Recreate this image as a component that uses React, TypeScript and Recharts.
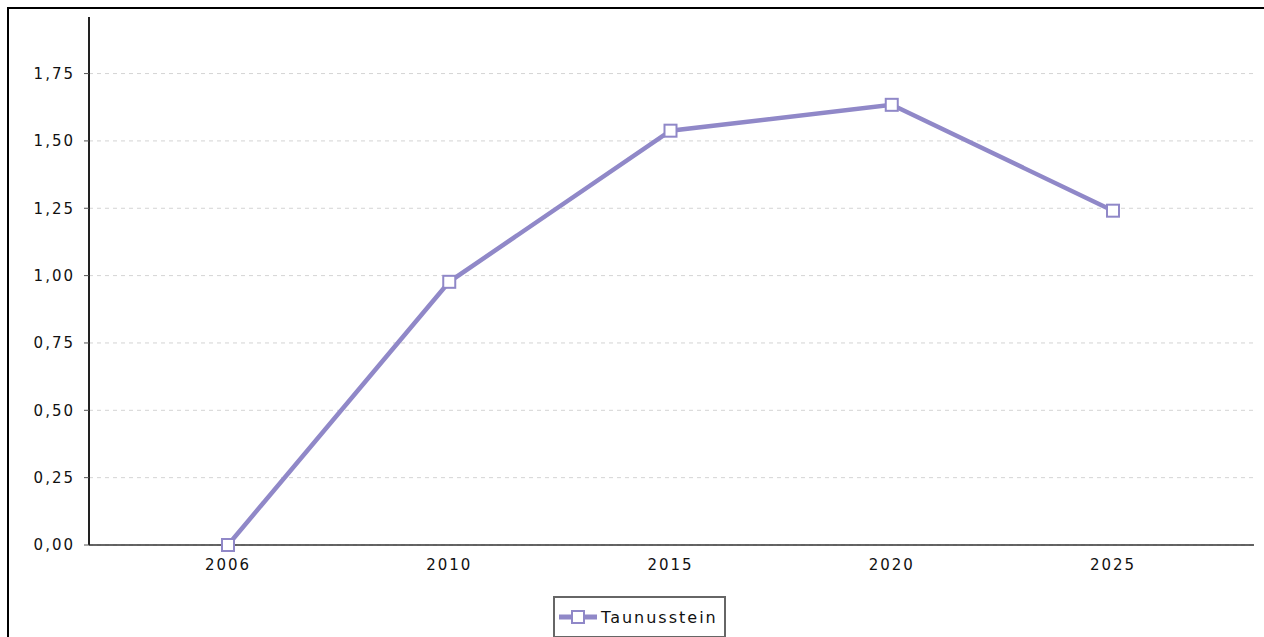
import React from "react";
import { LineChart, Line, XAxis, YAxis, CartesianGrid, Legend } from "recharts";

const categories = ["2006", "2010", "2015", "2020", "2025"];
const seriesName = "Taunusstein";
const seriesValues = [0, 0.977, 1.538, 1.634, 1.241];
const yTicks = [0, 0.25, 0.5, 0.75, 1.0, 1.25, 1.5, 1.75];

const data = categories.map((c, i) => ({ year: c, value: seriesValues[i] }));

const LINE_COLOR = "#9088c8";
const FONT = "'DejaVu Sans', sans-serif";

const SquareDot = (props: any) => {
  const { cx, cy, index } = props;
  if (cx == null || cy == null) return null;
  return (
    <rect
      key={`dot-${index}`}
      x={cx - 6}
      y={cy - 6}
      width={12}
      height={12}
      fill="#ffffff"
      stroke={LINE_COLOR}
      strokeWidth={2}
    />
  );
};

const LegendContent = () => (
  <div
    style={{
      display: "inline-flex",
      alignItems: "center",
      border: "2px solid #666",
      background: "#fff",
      padding: "6px 6px 6px 4px",
      height: 26,
      fontFamily: FONT,
      fontSize: 16,
      letterSpacing: 2,
      color: "#111",
    }}
  >
    <svg width={38} height={14} style={{ marginRight: 4 }}>
      <line x1={0} y1={7} x2={38} y2={7} stroke={LINE_COLOR} strokeWidth={5} />
      <rect x={13} y={1} width={12} height={12} fill="#fff" stroke={LINE_COLOR} strokeWidth={2} />
    </svg>
    <span>{seriesName}</span>
  </div>
);

const gridGenerator = (props: any) => {
  const yAxis = props && props.yAxis;
  if (yAxis && typeof yAxis.scale === "function") {
    return yTicks.map((t) => yAxis.scale(t));
  }
  if (yAxis && yAxis.scale && typeof yAxis.scale.map === "function") {
    return yTicks.map((t) => yAxis.scale.map(t));
  }
  return [];
};

export default function App() {
  return (
    <div
      style={{
        position: "fixed",
        left: 7,
        top: 7,
        width: 1257,
        height: 630,
        overflow: "hidden",
        background: "#fff",
      }}
    >
      <div
        style={{
          width: 1300,
          height: 700,
          border: "2px solid #000",
          boxSizing: "border-box",
          position: "relative",
        }}
      >
        <LineChart
          width={1255}
          height={640}
          data={data}
          margin={{ top: 8, right: 10, bottom: 32, left: 0 }}
        >
          <CartesianGrid
            vertical={false}
            stroke="#d4d4d4"
            strokeDasharray="4 4"
            horizontalCoordinatesGenerator={gridGenerator}
          />
          <XAxis
            dataKey="year"
            padding={{ left: 139, right: 141 }}
            height={30}
            tickLine={false}
            axisLine={{ stroke: "#333", strokeWidth: 1.5 }}
            tick={{ fontFamily: FONT, fontSize: 15, fill: "#111", letterSpacing: 2 }}
            tickMargin={8}
          />
          <YAxis
            width={80}
            domain={[0, 1.96]}
            ticks={yTicks}
            interval={0}
            tickFormatter={(v: number) => v.toFixed(2).replace(".", ",")}
            axisLine={{ stroke: "#222", strokeWidth: 2 }}
            tickLine={{ stroke: "#555" }}
            tickSize={5}
            tickMargin={9}
            tick={{ fontFamily: FONT, fontSize: 15, fill: "#111", letterSpacing: 2 }}
          />
          <Legend
            content={<LegendContent />}
            wrapperStyle={{ position: "absolute", left: 544, top: 587, width: "auto", height: "auto" }}
          />
          <Line
            type="linear"
            dataKey="value"
            name={seriesName}
            stroke={LINE_COLOR}
            strokeWidth={4.5}
            dot={<SquareDot />}
            activeDot={false}
            isAnimationActive={false}
          />
        </LineChart>
      </div>
    </div>
  );
}
